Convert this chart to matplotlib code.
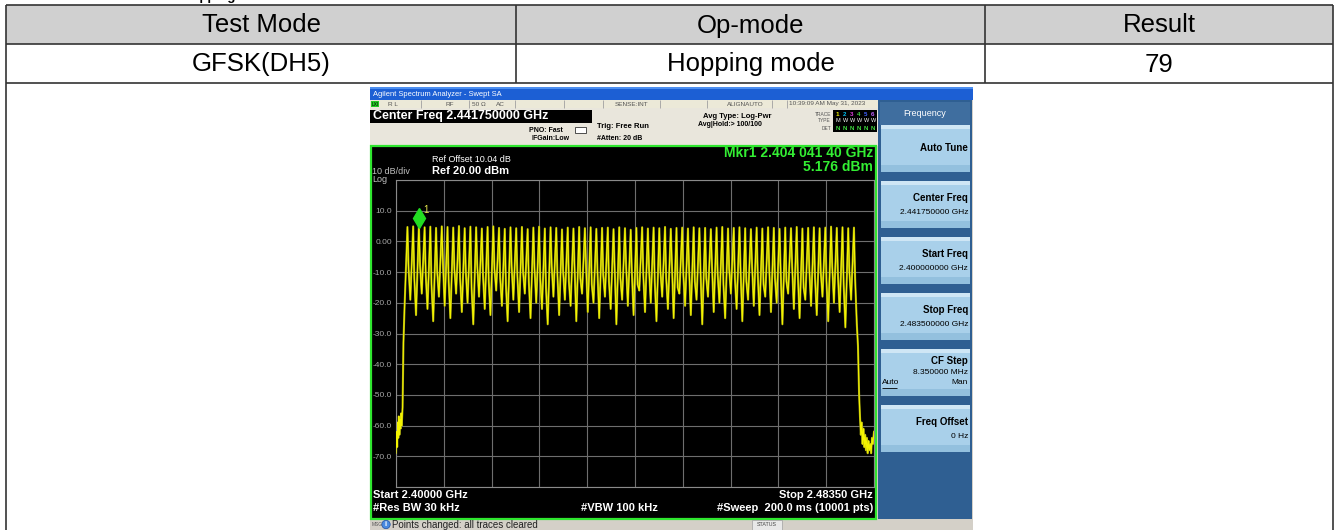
import numpy as np
import matplotlib
matplotlib.use('Agg')
import matplotlib.pyplot as plt
from matplotlib.patches import Rectangle, Circle
from matplotlib.transforms import offset_copy

plt.rcParams['font.family'] = ['Liberation Sans', 'DejaVu Sans']

W, H = 1338, 530

###    table data    ###
col_heads = ['Test Mode', 'Op-mode', 'Result']
row_vals = ['GFSK(DH5)', 'Hopping mode', '79']

###    spectrum data (MHz / dBm)    ###
f_start, f_stop = 2400.0, 2483.5
ref_level, db_div = 20.0, 10.0
chan_mhz = list(range(2402, 2481))           # 79 hopping channels
peak_db = [
    4.7, 4.9, 5.2, 4.6, 4.8, 4.4, 4.9, 4.7, 4.5, 5.0,
    4.3, 4.8, 4.6, 4.2, 4.7, 4.9, 4.4, 4.1, 4.6, 4.3,
    4.7, 4.0, 4.5, 4.8, 4.2, 4.6, 4.4, 3.9, 4.5, 4.2,
    4.7, 4.3, 4.6, 4.1, 4.4, 4.5, 4.0, 4.6, 4.3, 3.8,
    4.4, 4.6, 4.2, 4.5, 4.3, 4.7, 4.1, 4.4, 4.5, 4.2,
    4.6, 4.3, 4.4, 4.0, 4.5, 4.7, 4.2, 4.4, 4.6, 4.3,
    4.0, 4.5, 4.2, 4.6, 4.4, 4.1, 4.5, 4.3, 4.7, 4.2,
    4.4, 4.6, 4.3, 4.5, 4.8, 4.4, 4.6, 4.3, 4.5]
shoulder_db = [
    -9, -12, -8, -11, -14, -10, -7, -13, -9, -12,
    -10, -15, -8, -11, -13, -9, -12, -14, -8, -11,
    -10, -13, -9, -12, -15, -8, -11, -10, -13, -9,
    -12, -8, -14, -10, -11, -13, -9, -12, -8, -10,
    -14, -11, -9, -13, -10, -12, -8, -15, -11, -9,
    -13, -10, -12, -8, -11, -14, -9, -12, -10, -13,
    -8, -11, -14, -9, -12, -10, -13, -8, -11, -15,
    -9, -12, -10, -13, -8, -11, -14, -10, -12]
trough_mhz = [f + 0.5 for f in range(2401, 2481)]
trough_db = [
    -21,
    -19, -24, -17, -22, -26, -18, -21, -25, -17, -23,
    -20, -27, -18, -22, -24, -16, -21, -26, -19, -23,
    -17, -25, -20, -22, -27, -18, -24, -19, -21, -26,
    -17, -23, -20, -25, -18, -22, -27, -19, -21, -24,
    -16, -23, -20, -26, -18, -22, -25, -17, -21, -24,
    -19, -27, -18, -23, -20, -25, -17, -22, -26, -19,
    -21, -24, -18, -23, -20, -27, -17, -22, -25, -19,
    -21, -24, -18, -26, -20, -23, -28, -19,
    -27]
left_noise_mhz = [2400.0, 2400.1, 2400.2, 2400.3, 2400.4, 2400.5, 2400.6,
                  2400.7, 2400.8, 2400.9, 2401.0, 2401.15, 2401.3]
left_noise_db = [-69, -62, -67, -59, -64, -57, -63, -58, -61, -56, -60, -54, -33]
right_noise_mhz = [2480.7, 2480.9, 2481.05, 2481.2, 2481.35, 2481.5, 2481.65,
                   2481.8, 2481.95, 2482.1, 2482.25, 2482.4, 2482.55, 2482.7,
                   2482.85, 2483.0, 2483.15, 2483.3, 2483.5]
right_noise_db = [-34, -50, -57, -63, -59, -66, -61, -67, -63, -68, -64, -69,
                  -65, -68, -66, -69, -64, -66, -62]
mkr_mhz, mkr_db = 2404.0414, 5.176
y_labels = ['10.0', '0.00', '-10.0', '-20.0', '-30.0', '-40.0', '-50.0', '-60.0', '-70.0']

softkeys = [('Auto Tune', ''), ('Center Freq', '2.441750000 GHz'),
            ('Start Freq', '2.400000000 GHz'), ('Stop Freq', '2.483500000 GHz'),
            ('CF Step', '8.350000 MHz'), ('Freq Offset', '0 Hz')]


fig = plt.figure(figsize=(W / 100, H / 100), dpi=100)
bg = fig.add_axes([0, 0, 1, 1])
bg.set_xlim(0, W)
bg.set_ylim(H, 0)
bg.axis('off')


def box(x0, y0, x1, y1, fc, ec='none', lw=0, z=1):
    bg.add_patch(Rectangle((x0, y0), x1 - x0, y1 - y0, fc=fc, ec=ec, lw=lw, zorder=z))


def txt(x, y, s, size, color='black', ha='left', weight='normal', z=6):
    bg.text(x, y, s, fontsize=size, color=color, ha=ha, va='center',
            fontweight=weight, zorder=z)


def line(xs, ys, color='#333333', lw=1.2, z=3):
    bg.plot(xs, ys, color=color, lw=lw, zorder=z, solid_capstyle='butt')


###    heading (cut off at top, as in the source page)    ###
bg.text(182, 0, 'Hopping Channel Number', fontsize=9.5, fontweight='bold',
        ha='left', va='baseline', zorder=6)

###    table    ###
X0, XA, XB, X1 = 6, 516, 985, 1333
Y0, YA, YB = 5, 44, 83
box(X0, Y0, X1, YA, '#d0d0d0')
for y in (Y0, YA, YB):
    line([X0, X1], [y, y])
line([X0, X0], [Y0, H])
line([X1, X1], [Y0, H])
for x in (XA, XB):
    line([x, x], [Y0, YB])
col_cx = [(X0 + XA) / 2, (XA + XB) / 2, (XB + X1) / 2]
for cx, head, val in zip(col_cx, col_heads, row_vals):
    txt(cx, (Y0 + YA) / 2 + 1, head, 18.5, ha='center')
    txt(cx, (YA + YB) / 2 + 1, val, 18.5, ha='center')

###    analyzer screenshot frame    ###
SX0, SX1, SY0 = 370, 973, 87
box(SX0, SY0, SX1, H, '#d4d0c8')
box(SX0, SY0, SX1, 100, '#1c5fd4')
box(SX0, SY0, SX1, 89, '#4d8ff0')
txt(373, 94, 'Agilent Spectrum Analyzer - Swept SA', 5.4, 'white')

# status row
box(SX0, 100, 878, 108, '#ece9d8')
box(371, 101, 379, 107, '#22cc22', z=2)
txt(372, 104, 'LXI', 3.5, 'black')
for x in (421, 469, 515, 564, 603, 660, 707, 772, 787):
    line([x, x], [100, 108], '#a0a0a0', 0.6)
for x, s in [(388, 'R L'), (446, 'RF'), (472, '50 Ω'), (496, 'AC'),
             (615, 'SENSE:INT'), (727, 'ALIGNAUTO'), (789, '10:39:09 AM May 31, 2023')]:
    txt(x, 104, s, 4.6, '#555555')

# settings area
box(SX0, 108, 878, 146, '#e9e6dc')
box(370, 110, 592, 123, 'black', z=2)
txt(373, 116.5, 'Center Freq 2.441750000 GHz', 9, 'white', weight='bold')
txt(563, 130, 'PNO: Fast', 5, ha='right', weight='bold')
txt(570, 138, 'IFGain:Low', 5, ha='right', weight='bold')
bg.add_patch(Rectangle((575, 127), 11, 6, fc='white', ec='#333333', lw=0.6, zorder=3))
txt(597, 127, 'Trig: Free Run', 5.5, weight='bold')
txt(597, 138, '#Atten: 20 dB', 5, weight='bold')
txt(737, 117, 'Avg Type: Log-Pwr', 5.5, ha='center', weight='bold')
txt(730, 125, 'Avg|Hold:> 100/100', 5, ha='center', weight='bold')
box(833, 110, 877, 132, 'black', z=2)
txt(831, 114, 'TRACE', 3.5, '#555555', ha='right')
txt(831, 121, 'TYPE', 3.5, '#555555', ha='right')
txt(831, 128, 'DET', 3.5, '#555555', ha='right')
trace_cols = ['#f0f000', '#00c0f0', '#e040e0', '#40e040', '#4060ff', '#c060ff']
for i, c in enumerate(trace_cols):
    txt(836 + i * 7, 114, str(i + 1), 4.5, c, weight='bold')
    txt(836 + i * 7, 121, 'M' if i == 0 else 'W', 4, 'white')
    txt(836 + i * 7, 128, 'N', 4.5, '#40e040', weight='bold')

# plot area
box(371, 146, 876, 519, 'black', ec='#2ee62e', lw=1.6, z=2)
txt(372, 172, '10 dB/div', 6.5, '#c0c0c0')
txt(372, 179.5, 'Log', 6.5, '#c0c0c0')
txt(432, 160, 'Ref Offset 10.04 dB', 6.5, 'white')
txt(432, 171, 'Ref 20.00 dBm', 8, 'white', weight='bold')
txt(873, 153, 'Mkr1 2.404 041 40 GHz', 10, '#33ee33', ha='right', weight='bold')
txt(873, 167, '5.176 dBm', 10, '#33ee33', ha='right', weight='bold')
txt(373, 495, 'Start 2.40000 GHz', 8, 'white', weight='bold')
txt(373, 508, '#Res BW 30 kHz', 8, 'white', weight='bold')
txt(581, 508, '#VBW 100 kHz', 8, 'white', weight='bold')
txt(873, 495, 'Stop 2.48350 GHz', 8, 'white', ha='right', weight='bold')
txt(873, 508, '#Sweep  200.0 ms (10001 pts)', 8, 'white', ha='right', weight='bold')

# message bar
box(SX0, 520, SX1, H, '#d4d0c8')
txt(372, 525, 'MSG', 3.5, '#555555')
bg.add_patch(Circle((386, 524.5), 4.2, fc='#4a8ae0', ec='#2050a0', lw=0.5, zorder=3))
txt(386, 524.5, 'i', 5.5, 'white', ha='center', weight='bold', z=7)
txt(392, 525, 'Points changed: all traces cleared', 7, '#222222')
box(752, 520, 782, H, '#e8e8e8', ec='#a0a0a0', lw=0.5, z=2)
txt(767, 525, 'STATUS', 3.8, '#444444', ha='center')

# right softkey panel
box(878, 100, 972, 519, '#2f5f92')
box(880, 102, 970, 125, '#3f6e9f', z=2)
txt(925, 113, 'Frequency', 6.5, 'white', ha='center')
for i, (title, val) in enumerate(softkeys):
    top = 125 + i * 56
    box(881, top, 970, top + 47, '#a9d0ea', z=2)
    box(881, top, 970, top + 4, '#cfe6f5', z=3)
    box(881, top + 40, 970, top + 47, '#93c0de', z=3)
    if title == 'Auto Tune':
        txt(968, top + 23, title, 7, ha='right', weight='bold')
    elif title == 'CF Step':
        txt(968, top + 12, title, 7, ha='right', weight='bold')
        txt(968, top + 23, val, 6, ha='right')
        txt(968, top + 34, 'Man', 6, ha='right')
        txt(882, top + 34, 'Auto', 6)
        line([882, 897], [top + 39, top + 39], 'black', 0.6, z=7)
    else:
        txt(968, top + 17, title, 7, ha='right', weight='bold')
        txt(968, top + 31, val, 6, ha='right')

###    spectrum trace    ###
ax = fig.add_axes([396 / W, (H - 487) / H, 478 / W, 307 / H])
ax.set_facecolor('none')
ax.set_xlim(f_start, f_stop)
ax.set_ylim(ref_level - 10 * db_div, ref_level)
ax.set_xticks(np.linspace(f_start, f_stop, 11))
ax.set_xticklabels([])
ax.set_yticks(np.arange(ref_level - 10 * db_div, ref_level + 1, db_div))
ax.set_yticklabels([''] + y_labels[::-1] + [''])
ax.tick_params(length=0, labelsize=6, labelcolor='#a8a8a8', pad=3)
ax.grid(color='#6e6e6e', linewidth=0.8)
for sp in ax.spines.values():
    sp.set_color('#8a8a8a')

trace_f = list(left_noise_mhz)
trace_db = list(left_noise_db)
for k in range(len(chan_mhz)):
    trace_f += [trough_mhz[k], chan_mhz[k], chan_mhz[k] + 0.2]
    trace_db += [trough_db[k], peak_db[k], shoulder_db[k]]
trace_f += [trough_mhz[-1]] + right_noise_mhz
trace_db += [trough_db[-1]] + right_noise_db
ax.plot(trace_f, trace_db, color='#9a9a12', linewidth=1.5, zorder=2)
ax.plot(trace_f, trace_db, color='#f4f400', linewidth=0.8, zorder=3)

mk_tr = offset_copy(ax.transData, fig=fig, y=8, units='dots')
ax.plot(mkr_mhz, mkr_db, marker='d', markersize=10, color='#22dd22',
        markeredgecolor='#22dd22', transform=mk_tr, zorder=5, clip_on=False)
ax.annotate('1', (mkr_mhz, mkr_db), xytext=(4, 13), textcoords='offset pixels',
            color='#e8e850', fontsize=7, zorder=6)

fig.savefig('out.png', dpi=100)
